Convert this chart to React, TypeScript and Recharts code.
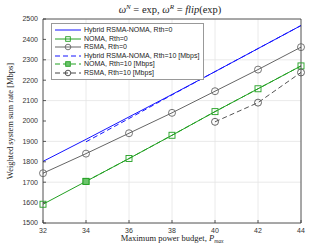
import React from 'react';
import { LineChart, Line, XAxis, YAxis, CartesianGrid } from 'recharts';

const power = [32, 34, 36, 38, 40, 42, 44];
const hybrid0 = [1802, 1910, 2020, 2130, 2242, 2355, 2468];
const noma0 = [1592, 1704, 1816, 1930, 2046, 2158, 2270];
const rsma0 = [1744, 1840, 1940, 2040, 2146, 2252, 2362];
const hybrid10 = [null, 1898, 2012, 2128, 2242, 2355, 2468];
const noma10 = [null, 1704, 1816, 1930, 2046, 2158, 2270];
const rsma10 = [null, null, null, null, 1996, 2090, 2238];

const xTicks = [32, 34, 36, 38, 40, 42, 44];
const yTicks = [1500, 1600, 1700, 1800, 1900, 2000, 2100, 2200, 2300, 2400, 2500];

const BLUE = '#1414ff';
const GREEN = '#22a022';
const GRAY = '#666666';

const data = power.map((p, i) => ({
  p,
  hybrid0: hybrid0[i],
  noma0: noma0[i],
  rsma0: rsma0[i],
  hybrid10: hybrid10[i],
  noma10: noma10[i],
  rsma10: rsma10[i],
}));

const legendItems = [
  { name: 'Hybrid RSMA-NOMA, Rth=0', color: BLUE, dash: false, marker: 'none' },
  { name: 'NOMA, Rth=0', color: GREEN, dash: false, marker: 'square' },
  { name: 'RSMA, Rth=0', color: GRAY, dash: false, marker: 'circle' },
  { name: 'Hybrid RSMA-NOMA, Rth=10 [Mbps]', color: BLUE, dash: true, marker: 'none' },
  { name: 'NOMA, Rth=10 [Mbps]', color: GREEN, dash: true, marker: 'fsquare' },
  { name: 'RSMA, Rth=10 [Mbps]', color: '#444444', dash: true, marker: 'circle' },
];

const Marker = ({ cx, cy, kind, color, s = 3.5 }: any) => {
  if (cx == null || cy == null) return null;
  if (kind === 'circle')
    return <circle cx={cx} cy={cy} r={s} fill="none" stroke={color} strokeWidth={0.9} />;
  const h = s - 0.5;
  if (kind === 'square')
    return <rect x={cx - h} y={cy - h} width={2 * h} height={2 * h} fill="none" stroke={color} strokeWidth={0.9} />;
  if (kind === 'fsquare')
    return <rect x={cx - h} y={cy - h} width={2 * h} height={2 * h} fill="#6cc46c" stroke={color} strokeWidth={0.9} />;
  return null;
};

const LegendBox = () => (
  <div
    style={{
      position: 'absolute',
      left: 51,
      top: 23,
      background: '#fff',
      border: '1px solid #999',
      padding: '2px 4px 2px 1px',
      fontFamily: 'Liberation Sans, Arial, sans-serif',
      fontSize: 7,
      color: '#222',
      lineHeight: '8.5px',
    }}
  >
    {legendItems.map((it) => (
      <div key={it.name} style={{ display: 'flex', alignItems: 'center', height: 8.5 }}>
        <svg width={30} height={8} style={{ marginRight: 1 }}>
          <line
            x1={2}
            x2={28}
            y1={4}
            y2={4}
            stroke={it.color}
            strokeWidth={1}
            strokeDasharray={it.dash ? '5 3' : undefined}
          />
          <Marker cx={15} cy={4} kind={it.marker} color={it.color} s={2.8} />
        </svg>
        <span style={{ whiteSpace: 'nowrap' }}>{it.name}</span>
      </div>
    ))}
  </div>
);

const dotFor = (kind: string, color: string, only?: number) => (props: any) => {
  const { cx, cy, payload, index } = props;
  if (only != null && payload.p !== only) return <g key={index} />;
  return (
    <g key={index}>
      <Marker cx={cx} cy={cy} kind={kind} color={color} />
    </g>
  );
};

const tickStyle = { fontFamily: 'Liberation Sans, Arial, sans-serif', fontSize: 7, fill: '#333' };

export default function App() {
  return (
    <div style={{ position: 'absolute', left: 0, top: 0, width: 333, height: 250, background: '#fff' }}>
      <LineChart width={333} height={250} data={data} margin={{ top: 18, right: 31, bottom: 0, left: 0 }}>
        <CartesianGrid stroke="#e4e4e4" strokeWidth={0.8} />
        <XAxis
          dataKey="p"
          type="number"
          domain={[32, 44]}
          ticks={xTicks}
          height={27}
          tickSize={-3}
          tickMargin={8}
          tick={tickStyle}
          stroke="#333"
          strokeWidth={0.8}
          label={(props: any) => {
            const vb = props.viewBox;
            return (
              <text
                x={vb.x + vb.width / 2}
                y={241}
                textAnchor="middle"
                fontFamily="Liberation Serif, serif"
                fontSize={8.5}
                fill="#222"
              >
                Maximum power budget,{' '}
                <tspan fontStyle="italic">P</tspan>
                <tspan fontStyle="italic" fontSize={5.5} dy={1.5}>max</tspan>
              </text>
            );
          }}
        />
        <XAxis
          xAxisId="top"
          orientation="top"
          dataKey="p"
          type="number"
          domain={[32, 44]}
          ticks={xTicks}
          height={1}
          tickSize={-3}
          tick={false}
          stroke="#333"
          strokeWidth={0.8}
        />
        <YAxis
          type="number"
          domain={[1500, 2500]}
          ticks={yTicks}
          width={43}
          tickSize={-3}
          tickMargin={8}
          tick={tickStyle}
          stroke="#333"
          strokeWidth={0.8}
          label={(props: any) => {
            const vb = props.viewBox;
            const cy = vb.y + vb.height / 2;
            return (
              <text
                x={13}
                y={cy}
                transform={`rotate(-90 13 ${cy})`}
                textAnchor="middle"
                fontFamily="Liberation Serif, serif"
                fontSize={8.5}
                fill="#222"
              >
                Weighted system sum rate [Mbps]
              </text>
            );
          }}
        />
        <YAxis
          yAxisId="right"
          orientation="right"
          type="number"
          domain={[1500, 2500]}
          ticks={yTicks}
          width={1}
          tickSize={-3}
          tick={false}
          stroke="#333"
          strokeWidth={0.8}
        />
        <Line dataKey="hybrid0" stroke={BLUE} strokeWidth={1} dot={false} isAnimationActive={false} />
        <Line dataKey="noma0" stroke={GREEN} strokeWidth={1} dot={dotFor('square', GREEN)} isAnimationActive={false} />
        <Line dataKey="rsma0" stroke={GRAY} strokeWidth={1} dot={dotFor('circle', GRAY)} isAnimationActive={false} />
        <Line
          dataKey="hybrid10"
          stroke={BLUE}
          strokeWidth={1}
          strokeDasharray="5 3"
          dot={false}
          isAnimationActive={false}
        />
        <Line
          dataKey="noma10"
          stroke={GREEN}
          strokeWidth={1}
          strokeDasharray="5 3"
          dot={dotFor('fsquare', GREEN, 34)}
          isAnimationActive={false}
        />
        <Line
          dataKey="rsma10"
          stroke="#555555"
          strokeWidth={1}
          strokeDasharray="5 3"
          dot={dotFor('circle', '#555555')}
          isAnimationActive={false}
        />
        <text x={170} y={13} textAnchor="middle" fontFamily="Liberation Serif, serif" fontSize={10.5} fill="#222">
          <tspan fontStyle="italic">ω</tspan>
          <tspan fontStyle="italic" fontSize={7} dy={-4.5}>N</tspan>
          <tspan dy={4.5}> = exp, </tspan>
          <tspan fontStyle="italic">ω</tspan>
          <tspan fontStyle="italic" fontSize={7} dy={-4.5}>R</tspan>
          <tspan dy={4.5}> = </tspan>
          <tspan fontStyle="italic">flip</tspan>
          <tspan>(exp)</tspan>
        </text>
      </LineChart>
      <LegendBox />
    </div>
  );
}
